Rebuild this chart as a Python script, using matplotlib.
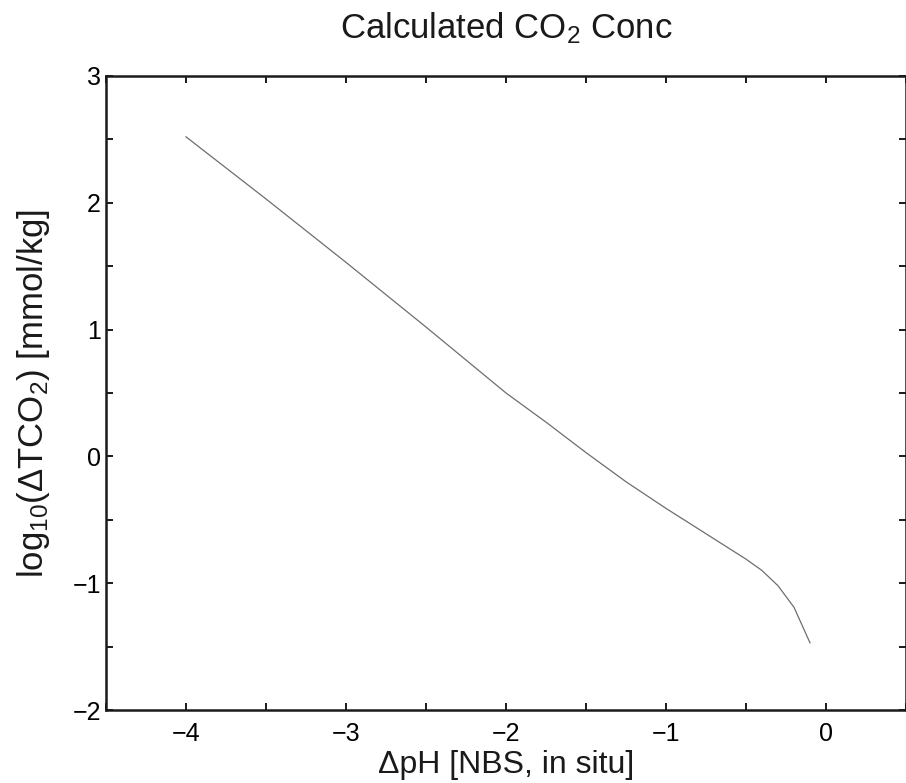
import numpy as np
import matplotlib.pyplot as plt
from matplotlib.ticker import MultipleLocator

plt.rcParams['font.family'] = ['Liberation Sans', 'DejaVu Sans']
plt.rcParams['mathtext.default'] = 'regular'

# values
delta_ph = [-4.0, -3.5, -3.0, -2.5, -2.0, -1.75, -1.5, -1.25, -1.0, -0.75,
            -0.5, -0.4, -0.3, -0.2, -0.1]
log_tco2 = [2.52, 2.03, 1.53, 1.02, 0.50, 0.27, 0.03, -0.20, -0.41, -0.61,
            -0.81, -0.90, -1.02, -1.19, -1.47]

fig = plt.figure(figsize=(9.06, 7.83), dpi=100)
ax = fig.add_axes([0.117, 0.0932, 0.883, 0.8098])

ax.plot(delta_ph, log_tco2, color='#6e6e6e', linewidth=0.9)

ax.set_xlim(-4.5, 0.5)
ax.set_ylim(-2, 3)
ax.xaxis.set_major_locator(MultipleLocator(1))
ax.xaxis.set_minor_locator(MultipleLocator(0.5))
ax.yaxis.set_major_locator(MultipleLocator(1))
ax.yaxis.set_minor_locator(MultipleLocator(0.5))

for s in ax.spines.values():
    s.set_linewidth(1.8)
    s.set_color('#1a1a1a')

ax.tick_params(which='both', direction='in', top=True, right=True,
               length=4.8, width=1.4, color='#1a1a1a')
ax.tick_params(axis='x', which='major', labelsize=18, pad=8.5)
ax.tick_params(axis='y', which='major', labelsize=18, pad=3.6)

ax.set_title('Calculated CO$_2$ Conc', fontsize=25, pad=27, color='#1a1a1a')
ax.set_xlabel('\u0394pH [NBS, in situ]', fontsize=23, labelpad=3, color='#1a1a1a')
ax.set_ylabel('log$_{10}$(\u0394TCO$_2$) [mmol/kg]', fontsize=25, labelpad=15,
              color='#1a1a1a')

fig.savefig('out.png', dpi=100)
